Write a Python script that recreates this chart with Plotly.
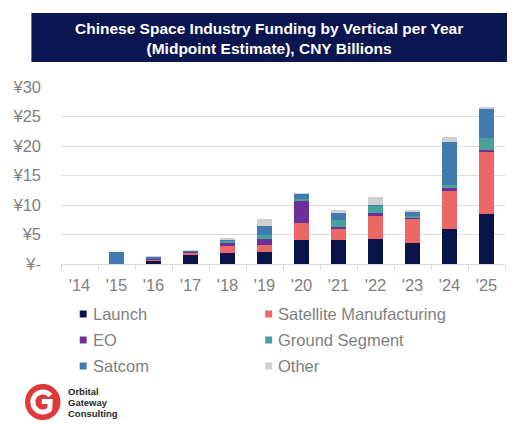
import math
import plotly.graph_objects as go

# ---------------- data ----------------
years = ["'14", "'15", "'16", "'17", "'18", "'19", "'20", "'21", "'22", "'23", "'24", "'25"]
series_names = ["Launch", "Satellite Manufacturing", "EO", "Ground Segment", "Satcom", "Other"]
launch = [0, 0, 0.6, 1.5, 1.9, 2.1, 4.1, 4.0, 4.2, 3.6, 5.9, 8.5]
sat_mfg = [0, 0, 0.2, 0.4, 1.2, 1.1, 2.8, 2.0, 3.9, 4.1, 6.45, 10.5]
eo = [0, 0, 0.15, 0.15, 0.45, 1.0, 3.7, 0.35, 0.55, 0.2, 0.45, 0.3]
ground = [0, 0, 0.05, 0.1, 0.35, 0.7, 0.5, 1.1, 1.2, 0.3, 0.6, 2.1]
satcom = [0, 2.1, 0.2, 0.15, 0.3, 1.5, 0.8, 1.25, 0.1, 0.7, 7.3, 4.8]
other = [0, 0, 0.05, 0.05, 0.15, 1.2, 0.1, 0.5, 1.35, 0.1, 0.85, 0.45]
y_tickvals = [0, 5, 10, 15, 20, 25, 30]
y_ticktext = ["¥-", "¥5", "¥10", "¥15", "¥20", "¥25", "¥30"]
title_text = "Chinese Space Industry Funding by Vertical per Year<br>(Midpoint Estimate), CNY Billions"
logo_lines = ["Orbital", "Gateway", "Consulting"]

# ---------------- style ----------------
colors = ["#0a1449", "#ec6867", "#6b3099", "#47a29a", "#4179b1", "#d0d0d0"]
W, H = 522, 424
ML, MR, MT, MB = 55, 17, 87, 160
PW, PH = W - ML - MR, H - MT - MB
FONT = "Liberation Sans, Arial, sans-serif"
GRAY = "#7f7f7f"


def P(px, py):
    return (px - ML) / PW, (H - MB - py) / PH


def poly(points):
    pp = [P(x, y) for x, y in points]
    return "M " + " L ".join(f"{x:.5f},{y:.5f}" for x, y in pp)


fig = go.Figure()
all_series = [launch, sat_mfg, eo, ground, satcom, other]
for name, vals, col in zip(series_names, all_series, colors):
    fig.add_trace(go.Bar(x=years, y=vals, name=name, marker=dict(color=col, line=dict(width=0)),
                         showlegend=False))

shapes = []
annotations = []

# title box
x0, y0 = P(25, 13)
x1, y1 = P(507, 62)
shapes.append(dict(type="rect", xref="paper", yref="paper", x0=x0, y0=y1, x1=x1, y1=y0,
                   fillcolor="#0b1650", line=dict(width=0), layer="above"))
tx, ty = P(266, 38)
annotations.append(dict(text="<b>" + title_text + "</b>", xref="paper", yref="paper", x=tx, y=ty,
                        xanchor="center", yanchor="middle", showarrow=False, align="center",
                        font=dict(family=FONT, size=15.5, color="white")))

# manual legend
leg_pos = [(74, 314), (262, 314), (74, 340), (262, 340), (74, 366), (262, 366)]
for (lx, ly), name, col in zip(leg_pos, series_names, colors):
    a0, b0 = P(lx, ly - 3.5)
    a1, b1 = P(lx + 7, ly + 3.5)
    shapes.append(dict(type="rect", xref="paper", yref="paper", x0=a0, y0=b1, x1=a1, y1=b0,
                       fillcolor=col, line=dict(width=0)))
    ax, ay = P(lx + 11, ly)
    annotations.append(dict(text=name, xref="paper", yref="paper", x=ax, y=ay, xanchor="left",
                            yanchor="middle", showarrow=False,
                            font=dict(family=FONT, size=16.5, color=GRAY)))

# logo
cx, cy, r = 36.5, 402, 18
a0, b0 = P(cx - r, cy - r)
a1, b1 = P(cx + r, cy + r)
shapes.append(dict(type="circle", xref="paper", yref="paper", x0=a0, y0=b1, x1=a1, y1=b0,
                   fillcolor="#e0393a", line=dict(width=0)))
pts = []
rr = 10
for k in range(0, 61):
    ang = math.radians(40 + k * (275 / 60))
    pts.append((cx + rr * math.cos(ang), cy - rr * math.sin(ang)))
pts += [(cx + 7.5, cy + 1), (cx + 7.5, cy - 0.5), (cx - 1, cy - 0.5)]
shapes.append(dict(type="path", xref="paper", yref="paper", path=poly(pts),
                   line=dict(color="white", width=5)))
for i, line in enumerate(logo_lines):
    ax, ay = P(60, 391 + 11 * i)
    annotations.append(dict(text="<b>" + line + "</b>", xref="paper", yref="paper", x=ax, y=ay,
                            xanchor="left", yanchor="middle", showarrow=False,
                            font=dict(family=FONT, size=9.5, color="#2a2a2a")))

fig.update_layout(
    width=W, height=H, barmode="stack", bargap=0.6,
    margin=dict(l=ML, r=MR, t=MT, b=MB),
    paper_bgcolor="white", plot_bgcolor="white",
    font=dict(family=FONT, color=GRAY),
    shapes=shapes, annotations=annotations,
    xaxis=dict(range=[-0.5, 11.5], showline=True, linecolor="#d9d9d9", linewidth=1,
               ticks="outside", tickson="boundaries", ticklen=5, tickcolor="#d9d9d9",
               ticklabelstandoff=6,
               showgrid=False, tickfont=dict(size=16.5, color=GRAY), fixedrange=True),
    yaxis=dict(range=[0, 30], tickvals=y_tickvals, ticktext=y_ticktext, showgrid=True,
               gridcolor="#dedede", gridwidth=1, zeroline=False, showline=False,
               ticklabelstandoff=19, tickfont=dict(size=16.5, color=GRAY), fixedrange=True),
)

fig.write_html("out.html")
